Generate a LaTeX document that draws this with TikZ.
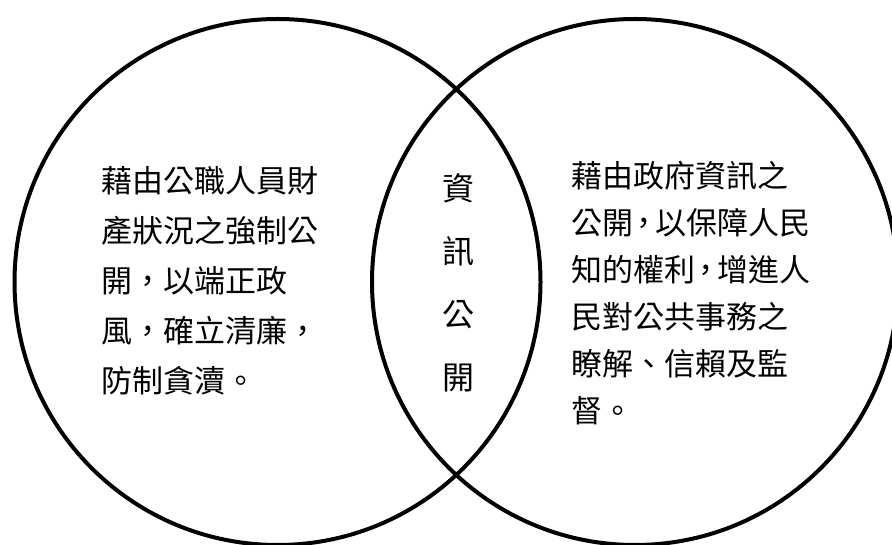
\documentclass[tikz,border=0pt]{standalone}
\usepackage{fontspec}
\newfontfamily\cjk{Noto Sans CJK TC}
\begin{document}
\begin{tikzpicture}[x=1pt,y=-1pt,
  ring/.style={circle,draw=black,line width=4pt,minimum size=526pt,inner sep=0pt},
  leftpara/.style={font=\cjk\fontsize{31}{50}\selectfont,align=left,inner sep=0pt,anchor=base west},
  rightpara/.style={font=\cjk\fontsize{31}{47}\selectfont,align=left,inner sep=0pt,anchor=base west},
  midword/.style={font=\cjk\fontsize{32}{63}\selectfont,align=center,inner sep=0pt}]
\useasboundingbox (0,0) rectangle (892,545);
\fill[white] (0,0) rectangle (892,545);
\clip (0,0) rectangle (892,545);
\node[ring] (L) at (277.5,282) {};
\node[ring] (R) at (635,282) {};
\node[leftpara] (lt) at (101,392) {藉由公職人員財\\產狀況之強制公\\開，以端正政\\風，確立清廉，\\防制貪瀆。};
\node[rightpara] (rt) at (571,422) {藉由政府資訊之\\公開\kern-4.5pt，\kern-4.5pt 以保障人民\\知的權利\kern-4.5pt，\kern-4.5pt 增進人\\民對公共事務之\\瞭解、信賴及監\\督。};
\node[midword] (mid) at (458,283) {資\\訊\\公\\開};
\end{tikzpicture}
\end{document}
